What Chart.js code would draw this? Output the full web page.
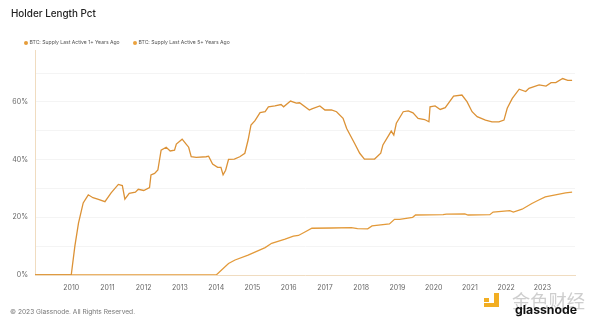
<!DOCTYPE html>
<html>
<head>
<meta charset="utf-8">
<script src="https://cdn.jsdelivr.net/npm/chart.js@4/dist/chart.umd.min.js"></script>
<style>
html,body{margin:0;padding:0;background:#fff;width:600px;height:326px;overflow:hidden;font-family:Inter,"Noto Sans",sans-serif;}
#wrap{position:relative;width:600px;height:326px;}
#c{position:absolute;left:0;top:0;}
.fit{position:absolute;white-space:nowrap;line-height:1;}
.title{left:11px;top:9px;font-size:12px;font-weight:500;color:#222;}
.legend{top:40px;font-size:5.2px;color:#555;}
.dot{position:absolute;width:4px;height:4px;border-radius:50%;top:40.5px;}
.footer{left:10px;top:309px;font-size:6.5px;color:#777;}
.lg{position:absolute;background:#f2ae22;}
.wm{left:512px;top:291px;font-family:"Noto Sans CJK SC",sans-serif;font-size:18px;color:rgba(190,190,190,0.75);}
.gn{left:515px;top:304px;font-size:14px;font-weight:700;color:#111;}
</style>
</head>
<body>
<div id="wrap">
<canvas id="c" width="600" height="326"></canvas>
<div class="fit title" data-w="85">Holder Length Pct</div>
<div class="dot" style="left:24px;background:#e59c3a"></div>
<div class="fit legend" id="lg1" style="left:29.5px" data-w="90"></div>
<div class="dot" style="left:133px;background:#eba23e"></div>
<div class="fit legend" id="lg2" style="left:138.5px" data-w="91"></div>
<div class="fit footer" data-w="125">© 2023 Glassnode. All Rights Reserved.</div>
<div class="lg" style="left:484px;top:298px;width:5px;height:4px"></div>
<div class="lg" style="left:484px;top:303px;width:15px;height:4px"></div>
<div class="lg" style="left:494px;top:293px;width:5px;height:14px"></div>
<div class="fit wm" data-w="73">金色财经</div>
<div class="fit gn" data-w="62">glassnode</div>
</div>
<script>
const seriesNames = ["BTC: Supply Last Active 1+ Years Ago", "BTC: Supply Last Active 5+ Years Ago"];
const yearTicks = [2010,2011,2012,2013,2014,2015,2016,2017,2018,2019,2020,2021,2022,2023];
const yTickLabels = [0,20,40,60];

const years1 = [2009.0,2010.0,2010.1,2010.2,2010.33,2010.47,2010.6,2010.75,2010.93,2011.1,2011.3,2011.41,2011.48,2011.6,2011.77,2011.85,2012.0,2012.16,2012.2,2012.3,2012.39,2012.48,2012.62,2012.73,2012.85,2012.9,2013.06,2013.17,2013.24,2013.31,2013.45,2013.72,2013.79,2013.9,2014.04,2014.13,2014.19,2014.26,2014.34,2014.5,2014.65,2014.79,2014.88,2014.96,2015.07,2015.21,2015.35,2015.44,2015.62,2015.79,2015.86,2016.05,2016.21,2016.3,2016.57,2016.64,2016.86,2017.0,2017.18,2017.32,2017.5,2017.6,2017.82,2017.96,2018.09,2018.37,2018.54,2018.6,2018.83,2018.9,2018.97,2019.16,2019.3,2019.43,2019.57,2019.75,2019.87,2019.9,2020.04,2020.18,2020.32,2020.55,2020.78,2020.92,2021.06,2021.2,2021.43,2021.61,2021.8,2021.94,2022.03,2022.17,2022.36,2022.54,2022.63,2022.91,2023.1,2023.24,2023.37,2023.56,2023.7,2023.82];
const pct1 = [0,0,10,18,25,27.8,26.8,26.2,25.4,28.5,31.4,31,26.3,28.3,28.7,29.7,29.3,30.3,34.7,35.2,36.4,43.3,44.3,43,43.3,45.4,47.1,45.4,44.3,41,40.8,41,41.2,38.5,37.3,37.3,34.7,36.3,40.1,40.2,41,42.2,46.8,52,53.5,56.3,56.6,58.3,58.6,59.1,58.3,60.3,59.6,59.7,57.2,57.6,58.6,57.2,57.2,56.6,54.3,50.8,45.6,42.2,40.2,40.2,42.2,45.1,49.9,48.5,52.6,56.6,56.9,56.2,54.3,53.9,53.1,58.3,58.6,57.4,58,62,62.4,60.1,56.6,54.9,53.7,53.1,53.1,53.7,57.8,61.2,64.4,63.6,64.7,65.9,65.5,66.7,66.7,68.1,67.5,67.5];

const years5 = [2009.0,2014.0,2014.34,2014.52,2014.88,2015.35,2015.53,2015.9,2016.13,2016.27,2016.46,2016.64,2017.18,2017.73,2017.9,2018.18,2018.3,2018.78,2018.92,2019.06,2019.42,2019.5,2020.26,2020.35,2020.86,2020.95,2021.55,2021.64,2022.1,2022.2,2022.44,2022.71,2022.9,2023.08,2023.36,2023.64,2023.82];
const pct5 = [0,0,4,5.2,6.9,9.5,11,12.4,13.5,13.7,15,16.2,16.3,16.4,16.1,16,17,17.7,19.3,19.3,20,20.8,20.9,21.1,21.2,20.8,20.9,21.8,22.3,21.8,22.8,24.8,26,27.1,27.8,28.5,28.7];

document.getElementById('lg1').textContent = seriesNames[0];
document.getElementById('lg2').textContent = seriesNames[1];
document.querySelectorAll('.fit').forEach(el => {
  const target = parseFloat(el.dataset.w);
  const w = el.getBoundingClientRect().width;
  const fs = parseFloat(getComputedStyle(el).fontSize);
  if (w > 0) el.style.fontSize = (fs * target / w).toFixed(2) + 'px';
});

const toPts = (xs, ys) => xs.map((x, i) => ({x: x, y: ys[i] / 100}));

new Chart(document.getElementById('c'), {
  type: 'line',
  data: {
    datasets: [
      {label: seriesNames[0], data: toPts(years1, pct1), borderColor: '#dc9236', borderWidth: 1.3, pointRadius: 0, tension: 0},
      {label: seriesNames[1], data: toPts(years5, pct5), borderColor: '#e39a3a', borderWidth: 1.3, pointRadius: 0, tension: 0}
    ]
  },
  options: {
    responsive: false,
    animation: false,
    layout: {padding: {left: 0, top: 50, right: 25, bottom: 0}},
    plugins: {legend: {display: false}, tooltip: {enabled: false}},
    scales: {
      x: {
        type: 'linear', min: 2009.0, max: 2023.9,
        afterBuildTicks: s => { s.ticks = yearTicks.map(v => ({value: v})); },
        afterFit: s => { s.height = 51; },
        grid: {display: false, drawTicks: false},
        border: {display: true, color: '#f0dcc0', width: 1},
        ticks: {padding: 9, color: '#666', font: {size: 7, family: 'Inter'}, callback: v => String(v), maxRotation: 0, autoSkip: false}
      },
      y: {
        min: 0, max: 0.78,
        afterBuildTicks: s => { const t = []; for (let v = 0; v <= 70; v += 10) t.push({value: v / 100}); s.ticks = t; },
        afterFit: s => { s.width = 35; },
        grid: {color: '#f4f4f4', lineWidth: 1, drawTicks: false},
        border: {display: true, color: '#f0dcc0', width: 1},
        ticks: {padding: 7, color: '#666', font: {size: 7, family: 'Inter'}, autoSkip: false,
          callback: v => { const p = Math.round(v * 100); return yTickLabels.includes(p) ? p + '%' : ''; }}
      }
    }
  }
});
</script>
</body>
</html>
